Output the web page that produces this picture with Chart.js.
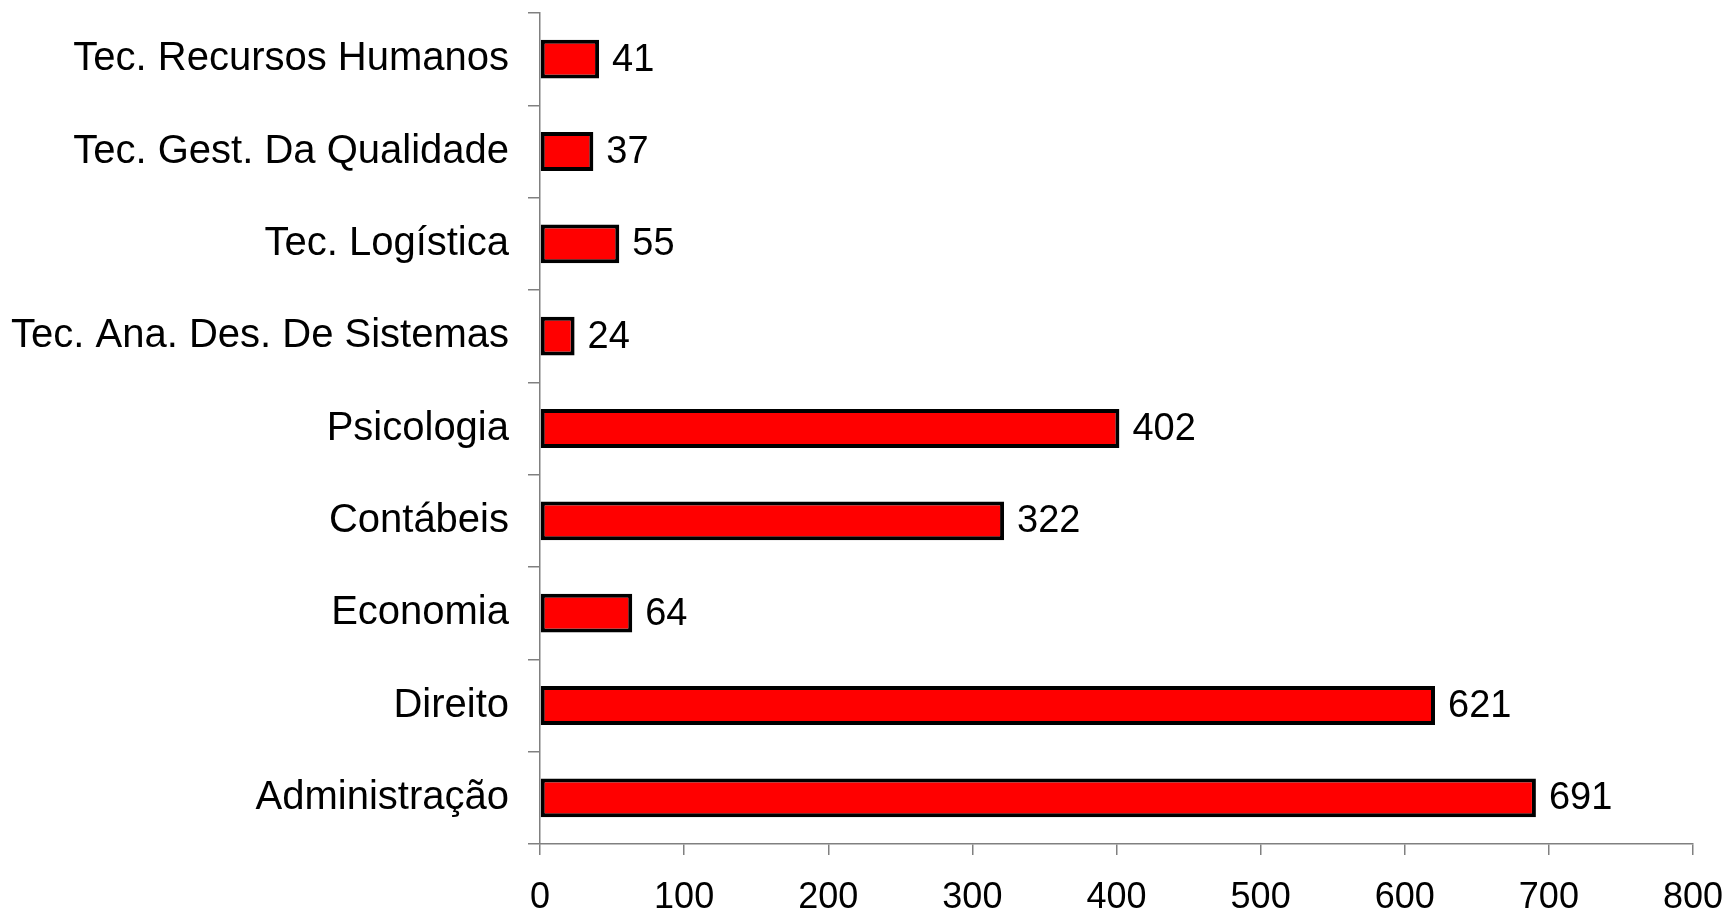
<!DOCTYPE html>
<html>
<head>
<meta charset="utf-8">
<script src="https://cdn.jsdelivr.net/npm/chart.js@4.4.0/dist/chart.umd.min.js"></script>
<style>
  html, body { margin: 0; padding: 0; background: #fff; }
  #wrap { width: 1727px; height: 910px; }
</style>
</head>
<body>
<div id="wrap"><canvas id="barChart" width="1727" height="910"></canvas></div>
<script>
// cursos, de cima para baixo
const cursos = [
  'Tec. Recursos Humanos',
  'Tec. Gest. Da Qualidade',
  'Tec. Logística',
  'Tec. Ana. Des. De Sistemas',
  'Psicologia',
  'Contábeis',
  'Economia',
  'Direito',
  'Administração'
]
const alunos = [41, 37, 55, 24, 402, 322, 64, 621, 691]
const xTicks = [0, 100, 200, 300, 400, 500, 600, 700, 800]

const fonte = '"Liberation Sans", Arial, sans-serif'
const cinza = '#808080'

// escreve o valor ao lado de cada barra
const valorPlugin = {
  id: 'valorPlugin',
  afterDatasetsDraw(chart) {
    const ctx = chart.ctx
    const meta = chart.getDatasetMeta(0)
    ctx.save()
    ctx.font = '38px ' + fonte
    ctx.fillStyle = '#000'
    ctx.textAlign = 'left'
    ctx.textBaseline = 'middle'
    meta.data.forEach((bar, i) => {
      ctx.fillText(String(chart.data.datasets[0].data[i]), bar.x + 13, bar.y + 1)
    })
    ctx.restore()
  }
}

const ctx = document.getElementById('barChart').getContext('2d')

const myChart = new Chart(ctx, {
  type: 'bar',
  data: {
    labels: cursos,
    datasets: [{
      label: 'Alunos',
      data: alunos,
      backgroundColor: '#ff0000',
      borderColor: '#000000',
      borderWidth: 4,
      borderSkipped: false,
      barPercentage: 0.42,
      categoryPercentage: 1
    }]
  },
  options: {
    indexAxis: 'y',
    responsive: false,
    devicePixelRatio: 1,
    animation: false,
    layout: { padding: { top: 13, right: 34, left: 0, bottom: 0 } },
    plugins: {
      legend: { display: false },
      tooltip: { enabled: false }
    },
    scales: {
      x: {
        min: 0,
        max: 800,
        afterBuildTicks(axis) {
          axis.ticks = xTicks.map(v => ({ value: v }))
        },
        afterFit(axis) {
          axis.height = 66
          axis.paddingLeft = 0
          axis.paddingRight = 0
        },
        grid: {
          drawOnChartArea: false,
          drawTicks: true,
          tickLength: 11,
          color: cinza,
          lineWidth: 1.5
        },
        border: { color: cinza, width: 1.5 },
        ticks: {
          padding: 21,
          color: '#000',
          font: { family: fonte, size: 36 }
        }
      },
      y: {
        afterFit(axis) {
          axis.width = 540
          axis.paddingTop = 0
          axis.paddingBottom = 0
        },
        grid: {
          offset: true,
          drawOnChartArea: false,
          drawTicks: true,
          tickLength: 12,
          color: cinza,
          lineWidth: 1.5
        },
        border: { color: cinza, width: 1.5 },
        ticks: {
          padding: 19,
          color: '#000',
          font: { family: fonte, size: 40 }
        }
      }
    }
  },
  plugins: [valorPlugin]
})
</script>
</body>
</html>
